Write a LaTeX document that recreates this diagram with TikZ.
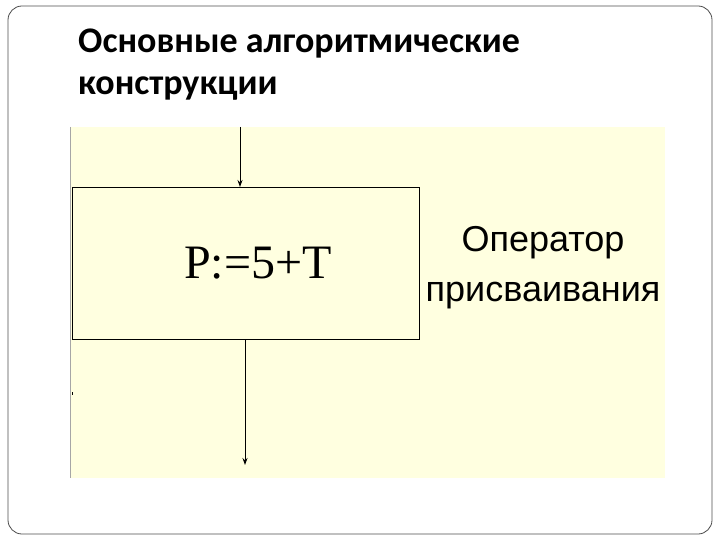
\documentclass[tikz,border=0pt]{standalone}
\usepackage{fontspec}
\setmainfont{Liberation Serif}
\newfontfamily\titlefont{Carlito}
\newfontfamily\arialfont{Liberation Sans}
\usetikzlibrary{arrows.meta}
\definecolor{bgy}{HTML}{FFFFE0}
\tikzset{flow/.style={draw=black,line width=1pt,-{Stealth[length=7pt,width=5pt]}},
lbl/.style={inner sep=0pt}}
\begin{document}
\begin{tikzpicture}[x=1pt,y=-1pt]
\useasboundingbox (0,0) rectangle (720,540);
\draw[black!70,line width=0.8pt,rounded corners=14pt] (8,6) node(frm){} rectangle (712,534);
\node[lbl,anchor=north west,align=left,font=\titlefont\bfseries\fontsize{36}{42}\selectfont] (title) at (78,29) {Основные алгоритмические\\конструкции};
\fill[bgy] (70,127) rectangle (665,478);
\draw[black!35,line width=0.6pt] (70,127) -- (70,478);
\node[draw=black,line width=1pt,fill=bgy,minimum width=347pt,minimum height=152pt,anchor=north west,inner sep=0pt] (box) at (72,187) {};
\node[lbl,font=\fontsize{48}{50}\selectfont] (expr) at (258,263) {P:=5+T};
\coordinate (top) at (240,127);
\coordinate (bot) at (245,465);
\draw[flow] (top) -- (top|-box.north);
\draw[flow] (bot|-box.south) -- (bot);
\node[lbl,align=center,font=\arialfont\fontsize{36}{50}\selectfont] (cap) at (543,268) {Оператор\\присваивания};
\coordinate (d) at (72,392);
\draw[black,line width=0.8pt] (d) -- ++(0,3);
\end{tikzpicture}
\end{document}
